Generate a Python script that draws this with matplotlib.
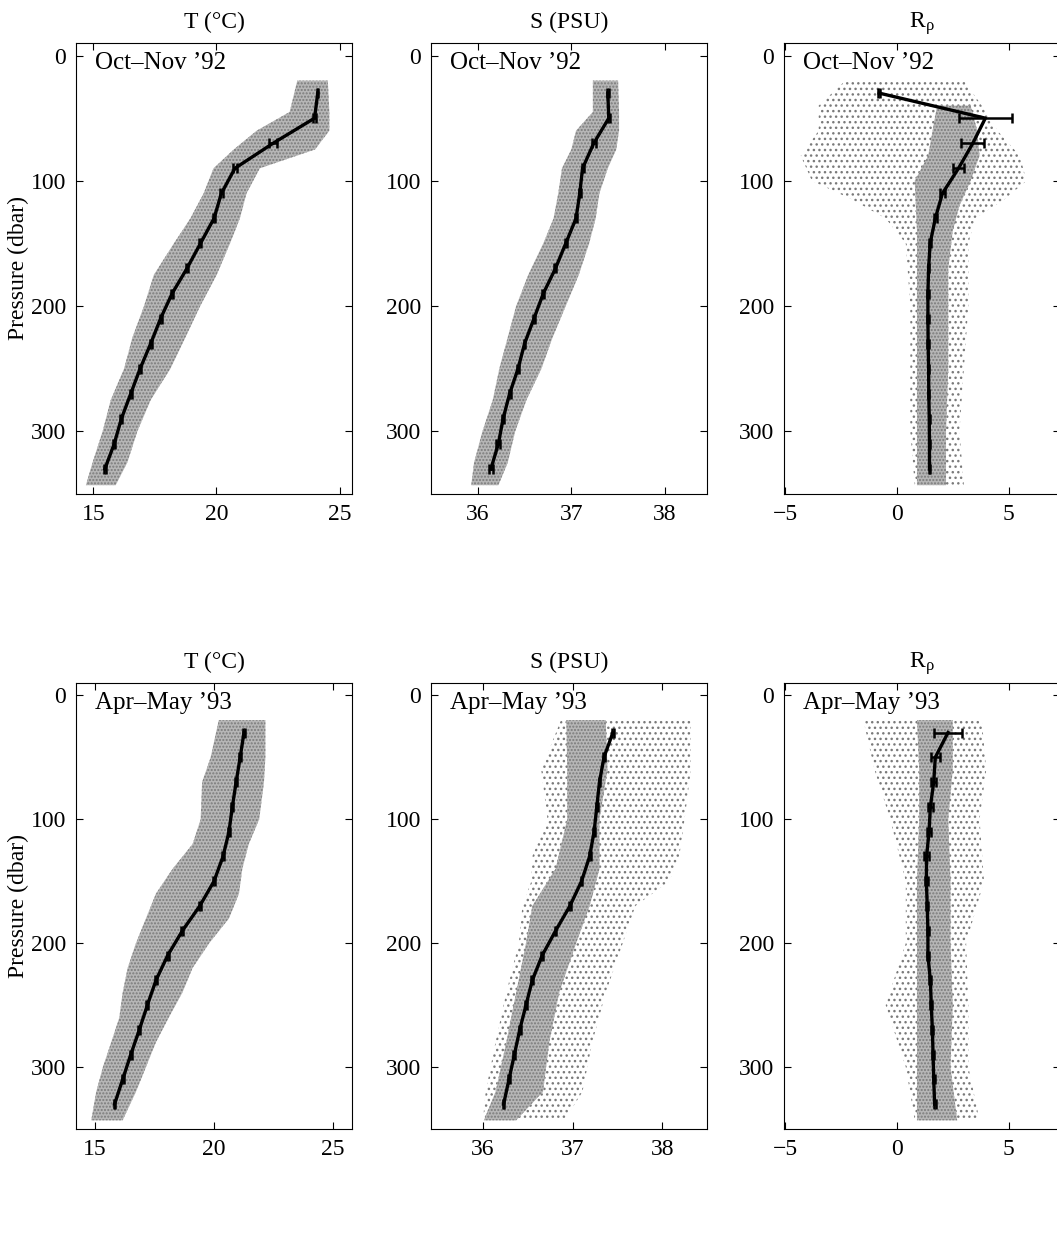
import numpy as np
import matplotlib.pyplot as plt

plt.rcParams['font.family'] = ['Liberation Serif', 'DejaVu Serif']
plt.rcParams['mathtext.fontset'] = 'stix'

# pressure levels of the mean profiles (dbar)
p_mean = [30, 50, 70, 90, 110, 130, 150, 170, 190, 210, 230, 250, 270, 290, 310, 330]

# ---- Oct-Nov '92 ----
t92_mean = [24.11, 23.98, 22.30, 20.75, 20.20, 19.90, 19.35, 18.80, 18.20, 17.73,
            17.33, 16.90, 16.52, 16.14, 15.85, 15.47]
t92_err = [0.03, 0.05, 0.15, 0.08, 0.05, 0.04, 0.04, 0.04, 0.04, 0.04,
           0.04, 0.04, 0.04, 0.04, 0.04, 0.04]
t92_env_p = [20, 45, 60, 75, 90, 110, 130, 150, 175, 200, 225, 250, 275, 300, 325, 343]
t92_env_lo = [23.28, 22.97, 21.63, 20.70, 19.88, 19.48, 18.94, 18.27, 17.46, 17.06,
              16.59, 16.25, 15.71, 15.38, 14.97, 14.70]
t92_env_hi = [24.52, 24.58, 24.58, 24.00, 21.76, 21.22, 20.95, 20.55, 20.01, 19.34,
              18.74, 18.13, 17.33, 16.79, 16.38, 15.91]

s92_mean = [37.39, 37.40, 37.24, 37.12, 37.09, 37.05, 36.94, 36.83, 36.70, 36.60,
            36.50, 36.43, 36.34, 36.27, 36.22, 36.14]
s92_err = [0.01, 0.01, 0.02, 0.01, 0.01, 0.01, 0.01, 0.01, 0.01, 0.01,
           0.01, 0.01, 0.01, 0.01, 0.02, 0.02]
s92_env_p = [20, 45, 60, 75, 90, 110, 130, 150, 175, 200, 225, 250, 275, 300, 325, 343]
s92_env_lo = [37.23, 37.23, 37.05, 37.00, 36.90, 36.86, 36.81, 36.70, 36.54, 36.41,
              36.32, 36.23, 36.16, 36.05, 35.96, 35.93]
s92_env_hi = [37.50, 37.51, 37.51, 37.48, 37.39, 37.30, 37.26, 37.19, 37.08, 36.94,
              36.80, 36.68, 36.52, 36.40, 36.32, 36.22]

r92_mean = [-0.79, 3.96, 3.40, 2.76, 2.04, 1.72, 1.49, 1.42, 1.39, 1.39,
            1.40, 1.42, 1.43, 1.45, 1.46, 1.46]
r92_err = [0.05, 1.20, 0.52, 0.26, 0.12, 0.08, 0.05, 0.03, 0.03, 0.03,
           0.03, 0.03, 0.03, 0.03, 0.03, 0.03]
r92_out_p = [20, 40, 60, 80, 100, 115, 130, 150, 200, 250, 300, 343]
r92_out_lo = [-2.3, -3.5, -3.5, -4.3, -3.8, -2.0, -0.5, 0.4, 0.6, 0.6, 0.6, 0.8]
r92_out_hi = [3.0, 3.8, 4.5, 5.5, 5.8, 4.8, 3.5, 3.2, 3.2, 3.0, 2.8, 3.0]
r92_core_p = [40, 60, 80, 100, 120, 140, 170, 200, 250, 300, 343]
r92_core_lo = [1.8, 1.6, 1.4, 0.8, 0.85, 0.9, 0.9, 0.9, 0.9, 0.9, 0.9]
r92_core_hi = [3.3, 3.6, 3.7, 3.3, 2.8, 2.5, 2.3, 2.3, 2.3, 2.2, 2.2]

# ---- Apr-May '93 ----
t93_mean = [21.26, 21.10, 20.93, 20.77, 20.63, 20.38, 20.00, 19.40, 18.67, 18.05,
            17.56, 17.20, 16.86, 16.50, 16.16, 15.82]
t93_err = [0.04] * 16
t93_env_p = [20, 50, 70, 100, 120, 140, 160, 180, 200, 220, 240, 260, 280, 300, 320, 343]
t93_env_lo = [20.20, 19.86, 19.50, 19.44, 19.10, 18.26, 17.56, 17.14, 16.72, 16.37,
              16.16, 16.02, 15.68, 15.33, 15.05, 14.84]
t93_env_hi = [22.16, 22.16, 22.10, 21.90, 21.46, 21.19, 21.05, 20.63, 19.80, 19.10,
              18.67, 18.10, 17.56, 17.14, 16.72, 16.16]

s93_mean = [37.45, 37.35, 37.30, 37.27, 37.24, 37.19, 37.10, 36.97, 36.81, 36.66,
            36.55, 36.48, 36.41, 36.35, 36.29, 36.23]
s93_err = [0.01] * 16
s93_out_p = [20, 60, 100, 130, 150, 170, 200, 240, 280, 320, 343]
s93_out_lo = [36.87, 36.65, 36.72, 36.55, 36.54, 36.44, 36.40, 36.26, 36.14, 36.03, 36.00]
s93_out_hi = [38.32, 38.32, 38.25, 38.19, 38.08, 37.70, 37.56, 37.37, 37.22, 37.11, 36.91]
s93_core_p = [20, 60, 100, 140, 170, 200, 240, 280, 320, 343]
s93_core_lo = [36.93, 36.94, 36.94, 36.81, 36.55, 36.48, 36.37, 36.26, 36.14, 36.01]
s93_core_hi = [37.37, 37.39, 37.30, 37.30, 37.19, 37.04, 36.85, 36.74, 36.67, 36.37]

r93_mean = [2.29, 1.72, 1.65, 1.50, 1.44, 1.33, 1.32, 1.36, 1.39, 1.39,
            1.50, 1.54, 1.59, 1.62, 1.65, 1.69]
r93_err = [0.62, 0.20, 0.10, 0.10, 0.10, 0.10, 0.08, 0.05, 0.04, 0.04,
           0.04, 0.04, 0.04, 0.04, 0.04, 0.04]
r93_out_p = [20, 60, 100, 150, 200, 250, 300, 343]
r93_out_lo = [-1.5, -1.0, -0.3, 0.4, 0.4, -0.5, 0.4, 0.8]
r93_out_hi = [3.8, 4.0, 3.7, 3.9, 3.1, 3.2, 3.2, 3.7]
r93_core_p = [20, 60, 100, 150, 200, 250, 300, 343]
r93_core_lo = [0.9, 1.0, 1.0, 0.9, 0.9, 0.9, 0.9, 0.9]
r93_core_hi = [2.5, 2.5, 2.3, 2.4, 2.4, 2.5, 2.4, 2.7]


def draw_panel(ax, title, season, xlim, xticks, mean, err, core, outer=None, ylabel=False):
    # sparse scatter region: stippled
    if outer is not None:
        ax.fill_betweenx(outer[0], outer[1], outer[2], facecolor='none',
                         edgecolor='#7a7a7a', hatch='...', linewidth=0, zorder=1)
    # dense scatter region
    ax.fill_betweenx(core[0], core[1], core[2], facecolor='#b6b6b6',
                     edgecolor='#7a7a7a', hatch='.....', linewidth=0, zorder=2)
    ax.errorbar(mean, p_mean, xerr=err, color='black', lw=2.4, elinewidth=1.8,
                capsize=3.5, capthick=1.8, zorder=3)

    ax.set_xlim(xlim)
    ax.set_ylim(350, -10)
    ax.set_xticks(xticks)
    ax.set_yticks([0, 100, 200, 300])
    ax.set_xticklabels([('\u2212%d' % -t) if t < 0 else str(t) for t in xticks])
    ax.tick_params(direction='in', top=True, right=True, length=5, labelsize=17, pad=7)
    ax.set_title(title, fontsize=17, pad=11)
    ax.text(0.07, 0.98, season, transform=ax.transAxes, ha='left', va='top', fontsize=18)
    if ylabel:
        ax.set_ylabel('Pressure (dbar)', fontsize=17, labelpad=1)


def main():
    fig = plt.figure(figsize=(10.57, 12.6), dpi=100)
    W, H = 1057.0, 1260.0
    lefts = [76, 431, 784]
    width = 276
    tops = [43, 683]
    heights = [451, 446]
    axes = []
    for r in range(2):
        row = []
        for c in range(3):
            ax = fig.add_axes([lefts[c] / W, 1 - (tops[r] + heights[r]) / H,
                               width / W, heights[r] / H])
            row.append(ax)
        axes.append(row)

    oct92 = 'Oct\u2013Nov \u201992'
    apr93 = 'Apr\u2013May \u201993'
    rho = 'R$_\\mathregular{\u03c1}$'

    draw_panel(axes[0][0], 'T (\u00b0C)', oct92, (14.3, 25.5), [15, 20, 25],
               t92_mean, t92_err, (t92_env_p, t92_env_lo, t92_env_hi), ylabel=True)
    draw_panel(axes[0][1], 'S (PSU)', oct92, (35.5, 38.45), [36, 37, 38],
               s92_mean, s92_err, (s92_env_p, s92_env_lo, s92_env_hi))
    draw_panel(axes[0][2], rho, oct92, (-5.05, 7.3), [-5, 0, 5],
               r92_mean, r92_err, (r92_core_p, r92_core_lo, r92_core_hi),
               outer=(r92_out_p, r92_out_lo, r92_out_hi))

    draw_panel(axes[1][0], 'T (\u00b0C)', apr93, (14.2, 25.8), [15, 20, 25],
               t93_mean, t93_err, (t93_env_p, t93_env_lo, t93_env_hi), ylabel=True)
    draw_panel(axes[1][1], 'S (PSU)', apr93, (35.42, 38.5), [36, 37, 38],
               s93_mean, s93_err, (s93_core_p, s93_core_lo, s93_core_hi),
               outer=(s93_out_p, s93_out_lo, s93_out_hi))
    draw_panel(axes[1][2], rho, apr93, (-5.05, 7.3), [-5, 0, 5],
               r93_mean, r93_err, (r93_core_p, r93_core_lo, r93_core_hi),
               outer=(r93_out_p, r93_out_lo, r93_out_hi))

    fig.savefig('out.png', dpi=100)


main()
